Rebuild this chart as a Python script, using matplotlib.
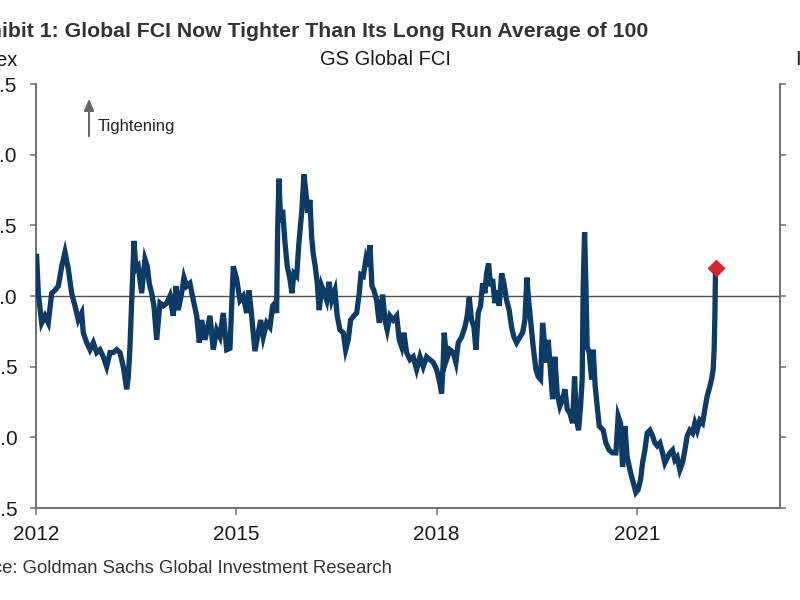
import matplotlib
matplotlib.use("Agg")
import matplotlib.pyplot as plt
import numpy as np

plt.rcParams['font.family'] = ['Liberation Sans', 'DejaVu Sans']

# Decimal-year dates and GS Global FCI values
dates = [
    2012.010, 2012.034, 2012.085, 2012.135, 2012.184, 2012.235, 2012.284, 2012.334, 2012.385, 2012.434,
    2012.484, 2012.534, 2012.584, 2012.633, 2012.684, 2012.708, 2012.759, 2012.808, 2012.858, 2012.909,
    2012.958, 2013.007, 2013.058, 2013.108, 2013.157, 2013.208, 2013.257, 2013.307, 2013.358, 2013.382,
    2013.407, 2013.433, 2013.467, 2013.497, 2013.531, 2013.582, 2013.632, 2013.666, 2013.696, 2013.732,
    2013.766, 2013.807, 2013.856, 2013.906, 2013.957, 2014.006, 2014.055, 2014.096, 2014.130, 2014.181,
    2014.216, 2014.256, 2014.305, 2014.355, 2014.406, 2014.445, 2014.481, 2014.530, 2014.605, 2014.654,
    2014.705, 2014.754, 2014.804, 2014.855, 2014.904, 2014.954, 2015.004, 2015.054, 2015.103, 2015.154,
    2015.189, 2015.229, 2015.278, 2015.328, 2015.364, 2015.403, 2015.454, 2015.503, 2015.543, 2015.578,
    2015.603, 2015.618, 2015.638, 2015.663, 2015.693, 2015.728, 2015.762, 2015.802, 2015.832, 2015.862,
    2015.903, 2015.937, 2015.978, 2016.012, 2016.042, 2016.067, 2016.102, 2016.127, 2016.151, 2016.181,
    2016.211, 2016.241, 2016.277, 2016.316, 2016.352, 2016.386, 2016.427, 2016.476, 2016.510, 2016.551,
    2016.600, 2016.636, 2016.675, 2016.711, 2016.760, 2016.801, 2016.840, 2016.865, 2016.900, 2016.940,
    2016.970, 2017.000, 2017.030, 2017.060, 2017.100, 2017.139, 2017.190, 2017.225, 2017.259, 2017.299,
    2017.349, 2017.400, 2017.439, 2017.475, 2017.509, 2017.549, 2017.599, 2017.648, 2017.699, 2017.749,
    2017.798, 2017.849, 2017.898, 2017.948, 2017.999, 2018.048, 2018.073, 2018.097, 2018.112, 2018.148,
    2018.198, 2018.247, 2018.287, 2018.322, 2018.373, 2018.422, 2018.457, 2018.487, 2018.522, 2018.557,
    2018.587, 2018.621, 2018.657, 2018.687, 2018.722, 2018.747, 2018.777, 2018.807, 2018.837, 2018.871,
    2018.906, 2018.936, 2018.972, 2019.006, 2019.046, 2019.085, 2019.121, 2019.156, 2019.196, 2019.246,
    2019.286, 2019.320, 2019.350, 2019.380, 2019.410, 2019.445, 2019.485, 2019.519, 2019.555, 2019.585,
    2019.620, 2019.645, 2019.669, 2019.705, 2019.735, 2019.769, 2019.804, 2019.844, 2019.885, 2019.919,
    2019.954, 2019.994, 2020.034, 2020.064, 2020.094, 2020.124, 2020.154, 2020.178, 2020.193, 2020.214,
    2020.234, 2020.253, 2020.283, 2020.319, 2020.343, 2020.373, 2020.403, 2020.433, 2020.493, 2020.533,
    2020.582, 2020.633, 2020.683, 2020.717, 2020.753, 2020.783, 2020.817, 2020.852, 2020.903, 2020.942,
    2020.982, 2021.016, 2021.052, 2021.082, 2021.117, 2021.151, 2021.192, 2021.232, 2021.266, 2021.301,
    2021.341, 2021.382, 2021.416, 2021.456, 2021.491, 2021.531, 2021.566, 2021.600, 2021.641, 2021.681,
    2021.716, 2021.750, 2021.790, 2021.831, 2021.865, 2021.900, 2021.940, 2021.980, 2022.015, 2022.049,
    2022.090, 2022.115, 2022.139, 2022.154, 2022.165, 2022.175,
]
fci = [
    100.28, 100.02, 99.81, 99.86, 99.81, 100.02, 100.04, 100.07, 100.21, 100.31,
    100.19, 100.02, 99.93, 99.83, 99.88, 99.74, 99.67, 99.62, 99.67, 99.60,
    99.62, 99.57, 99.50, 99.60, 99.60, 99.62, 99.60, 99.50, 99.34, 99.43,
    99.64, 99.97, 100.39, 100.19, 100.21, 100.02, 100.26, 100.21, 100.09, 100.02,
    99.93, 99.69, 99.95, 99.93, 99.95, 100.00, 99.86, 100.07, 99.90, 100.02,
    100.13, 100.07, 100.09, 99.97, 99.86, 99.67, 99.83, 99.69, 99.86, 99.62,
    99.76, 99.71, 99.88, 99.62, 99.63, 100.21, 100.12, 99.97, 100.00, 99.88,
    100.04, 99.86, 99.61, 99.74, 99.83, 99.71, 99.81, 99.78, 99.93, 99.95,
    99.88, 100.47, 100.83, 100.52, 100.61, 100.38, 100.21, 100.12, 100.02, 100.16,
    100.14, 100.38, 100.59, 100.86, 100.73, 100.59, 100.68, 100.42, 100.30, 100.21,
    100.09, 99.90, 100.07, 100.02, 99.97, 100.10, 99.97, 100.04, 99.86, 99.76,
    99.74, 99.62, 99.69, 99.83, 99.86, 99.88, 100.02, 100.15, 100.14, 100.26,
    100.21, 100.36, 100.07, 100.04, 99.97, 99.81, 100.01, 99.83, 99.76, 99.86,
    99.83, 99.86, 99.69, 99.64, 99.74, 99.60, 99.55, 99.57, 99.48, 99.57,
    99.50, 99.57, 99.55, 99.53, 99.48, 99.38, 99.31, 99.53, 99.74, 99.55,
    99.62, 99.60, 99.53, 99.67, 99.71, 99.78, 99.86, 99.99, 99.83, 99.78,
    99.62, 99.88, 99.93, 100.09, 100.02, 100.16, 100.23, 100.07, 100.12, 99.95,
    100.04, 99.93, 100.16, 100.09, 99.97, 99.90, 99.78, 99.71, 99.67, 99.71,
    99.74, 99.83, 100.13, 99.95, 99.81, 99.64, 99.48, 99.43, 99.41, 99.81,
    99.64, 99.53, 99.69, 99.46, 99.27, 99.57, 99.31, 99.22, 99.27, 99.34,
    99.20, 99.17, 99.10, 99.43, 99.12, 99.05, 99.22, 99.41, 100.07, 100.45,
    100.07, 99.64, 99.60, 99.41, 99.62, 99.36, 99.22, 99.08, 99.05, 98.96,
    98.91, 98.89, 98.89, 99.15, 99.10, 98.79, 99.08, 98.86, 98.75, 98.68,
    98.61, 98.63, 98.70, 98.82, 98.91, 99.03, 99.05, 99.01, 98.96, 98.94,
    98.96, 98.89, 98.82, 98.86, 98.89, 98.91, 98.84, 98.86, 98.77, 98.82,
    98.91, 99.01, 99.05, 99.03, 99.10, 99.05, 99.12, 99.10, 99.20, 99.29,
    99.36, 99.41, 99.48, 99.62, 99.86, 100.20,
]

yticks = [98.5, 99.0, 99.5, 100.0, 100.5, 101.0, 101.5]
xticks = [2012, 2015, 2018, 2021]

title = "Exhibit 1: Global FCI Now Tighter Than Its Long Run Average of 100"
subtitle = "GS Global FCI"
source = "Source: Goldman Sachs Global Investment Research"

W, H = 800, 600
fig = plt.figure(figsize=(8, 6), dpi=100)
fig.patch.set_facecolor('white')
ax = fig.add_axes([36 / W, 1 - 508 / H, (780 - 36) / W, (508 - 84) / H])

navy = '#0e3a66'
spine_c = '#707070'

ax.axhline(100.0, color='#505050', lw=1.0, zorder=1)
ax.plot(dates, fci, color=navy, lw=3.8, solid_joinstyle='miter', zorder=3)
ax.plot([dates[-1]], [fci[-1]], marker='D', ms=8, color='#d1262d', mec='#d1262d', zorder=4)

ax.set_xlim(2012.0, 2023.14)
ax.set_ylim(98.5, 101.5)
ax.set_xticks(xticks)
ax.set_xticklabels([str(x) for x in xticks], fontsize=15, color='#1a1a1a')
ax.set_yticks(yticks)
ax.set_yticklabels([f"{v:.1f}" for v in yticks], fontsize=15, color='#1a1a1a')

for s in ['left', 'bottom', 'right']:
    ax.spines[s].set_color(spine_c)
    ax.spines[s].set_linewidth(1.4)
ax.spines['top'].set_visible(False)

ax.tick_params(axis='y', direction='out', length=4.5, width=1.1, color=spine_c, pad=9,
               right=True, labelright=True)
ax.tick_params(axis='x', direction='out', length=5, width=1.1, color=spine_c, pad=7)
for lab in ax.get_yticklabels():
    lab.set_fontsize(15)

# texts
fig.text(648 / W, 1 - 36.7 / H, title, fontsize=15.3, fontweight='bold', color='#333333',
         ha='right', va='baseline')
fig.text(385 / W, 1 - 65 / H, subtitle, fontsize=14.5, color='#1a1a1a', ha='center', va='baseline')
fig.text(18 / W, 1 - 66 / H, "Index", fontsize=14.5, color='#1a1a1a', ha='right', va='baseline')
fig.text(795 / W, 1 - 65 / H, "Index", fontsize=14.5, color='#1a1a1a', ha='left', va='baseline')
fig.text(392 / W, 1 - 573 / H, source, fontsize=13.3, color='#333333', ha='right', va='baseline')

# Tightening arrow
ax.annotate('', xy=(89 / W, 1 - 96 / H), xytext=(89 / W, 1 - 139 / H),
            xycoords='figure fraction', textcoords='figure fraction',
            arrowprops=dict(arrowstyle='-|>,head_length=0.7,head_width=0.3', color='#666666', lw=1.4))
fig.text(98 / W, 1 - 127 / H, "Tightening", fontsize=12, color='#222222', ha='left', va='center')

fig.savefig('out.png', dpi=100)
